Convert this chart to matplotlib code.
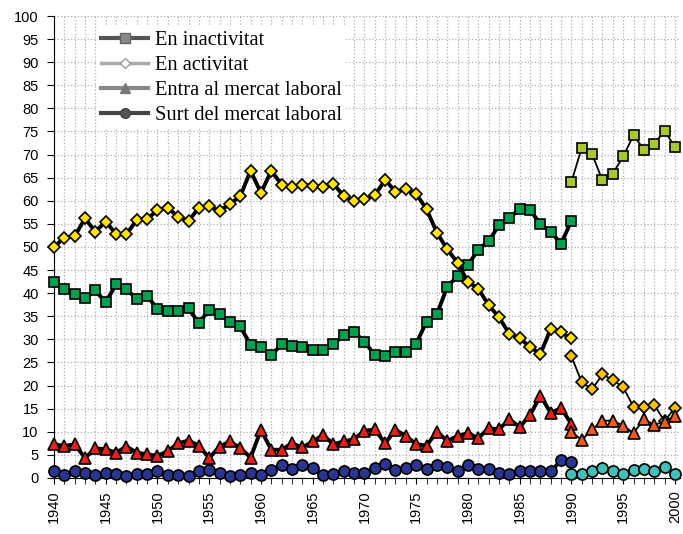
import numpy as np
import matplotlib
matplotlib.use("Agg")
import matplotlib.pyplot as plt
from matplotlib.lines import Line2D

# years of the two periods
years_a = list(range(1940, 1991))
years_b = list(range(1990, 2001))

# En inactivitat
inact_a = [42.4, 40.9, 39.8, 39.0, 40.6, 38.0, 41.9, 40.9, 38.7, 39.4,
           36.6, 36.1, 36.1, 36.7, 33.5, 36.4, 35.4, 33.8, 32.8, 28.8,
           28.3, 26.6, 28.9, 28.6, 28.3, 27.7, 27.7, 28.9, 30.9, 31.7,
           29.4, 26.7, 26.3, 27.3, 27.3, 29.1, 33.8, 35.4, 41.4, 43.7,
           46.1, 49.4, 51.3, 54.7, 56.2, 58.3, 58.1, 54.9, 53.3, 50.7,
           55.7]
inact_b = [64.1, 71.5, 70.1, 64.4, 65.9, 69.6, 74.2, 71.1, 72.4, 75.1, 71.7]

# En activitat
act_a = [50.0, 52.0, 52.3, 56.2, 53.3, 55.5, 52.8, 52.8, 55.8, 56.0,
         58.0, 58.5, 56.5, 55.6, 58.5, 58.8, 57.8, 59.3, 61.0, 66.5,
         61.7, 66.5, 63.5, 63.0, 63.5, 63.2, 63.0, 63.7, 61.0, 60.0,
         60.3, 61.2, 64.5, 62.0, 62.5, 61.5, 58.2, 53.1, 49.5, 46.6,
         42.4, 41.0, 37.4, 34.8, 31.2, 30.2, 28.4, 26.8, 32.3, 31.5,
         30.2]
act_b = [26.3, 20.7, 19.2, 22.4, 21.2, 19.6, 15.4, 15.4, 15.8, 12.3, 15.2]

# Entra al mercat laboral
entra_a = [7.3, 6.9, 7.3, 4.3, 6.4, 6.2, 5.5, 6.8, 5.5, 5.1,
           4.8, 5.8, 7.5, 8.1, 7.0, 4.3, 6.8, 7.9, 6.5, 4.4,
           10.4, 6.1, 6.1, 7.5, 6.6, 7.9, 9.3, 7.3, 7.9, 8.4,
           10.2, 10.5, 7.5, 10.4, 9.1, 7.3, 7.0, 10.0, 8.0, 9.1,
           9.7, 8.6, 10.8, 10.5, 12.7, 11.0, 13.6, 17.8, 14.1, 15.1,
           11.7]
entra_b = [10.0, 8.2, 10.5, 12.4, 12.4, 11.3, 9.7, 12.7, 11.5, 12.2, 13.4]

# Surt del mercat laboral
surt_a = [1.4, 0.6, 1.4, 1.1, 0.6, 1.1, 0.9, 0.4, 0.9, 0.9,
          1.4, 0.6, 0.6, 0.4, 1.4, 1.7, 1.1, 0.4, 0.6, 1.1,
          0.6, 1.7, 2.8, 1.9, 2.8, 2.2, 0.6, 0.9, 1.4, 1.1,
          1.1, 2.2, 3.0, 1.7, 2.2, 2.8, 1.9, 2.8, 2.4, 1.6,
          2.8, 1.9, 2.0, 1.1, 0.9, 1.6, 1.4, 1.4, 1.4, 3.8,
          3.4]
surt_b = [0.9, 0.9, 1.4, 2.2, 1.4, 0.9, 1.7, 2.0, 1.4, 2.4, 0.9]

labels = ["En inactivitat", "En activitat",
          "Entra al mercat laboral", "Surt del mercat laboral"]

fig = plt.figure(figsize=(6.83, 5.34), dpi=100)
ax = fig.add_axes([0.079, 0.105, 0.916, 0.865])

# (values, marker, face colour, size)
series_a = [
    (inact_a, "s", "#00a050", 7.2),
    (act_a, "D", "#ffe400", 5.8),
    (entra_a, "^", "#e8201c", 8),
    (surt_a, "o", "#2a3592", 8),
]
series_b = [
    (inact_b, "s", "#a8c830", 7.2),
    (act_b, "D", "#f8c000", 5.8),
    (entra_b, "^", "#f05a20", 8),
    (surt_b, "o", "#40c0b8", 8),
]

# thick lines before 1990, thin ones after
for vals, mk, col, ms in series_a:
    ax.plot(years_a, vals, color="black", lw=2.8, marker=mk, ms=ms,
            mfc=col, mec="black", mew=1.2, clip_on=False, zorder=3)
for vals, mk, col, ms in series_b:
    ax.plot(years_b, vals, color="black", lw=1.3, marker=mk, ms=ms,
            mfc=col, mec="black", mew=1.2, clip_on=False, zorder=3)

ax.set_xlim(1940, 2000.45)
ax.set_ylim(0, 100)
ax.set_yticks(np.arange(0, 101, 5))
ax.set_xticks(np.arange(1940, 2001, 5))
ax.set_xticks(np.arange(1940, 2001, 1), minor=True)
ax.tick_params(axis="x", which="both", rotation=90, length=4, labelsize=10.5, pad=5)
ax.tick_params(axis="y", length=5, labelsize=10.5, pad=6)
for lab in ax.get_xticklabels() + ax.get_yticklabels():
    lab.set_fontfamily("Liberation Sans")

ax.grid(axis="x", which="both", color="#b0b0b0", ls=":", lw=0.9)
ax.grid(axis="y", which="major", color="#b0b0b0", ls=":", lw=0.9)
ax.set_axisbelow(True)
ax.spines["top"].set_visible(False)
ax.spines["right"].set_visible(False)

# legend drawn in greys, as in the original
handles = [
    Line2D([], [], color="#555555", lw=3, marker="s", ms=7, mfc="#888888", mec="#666666"),
    Line2D([], [], color="#aaaaaa", lw=2.5, marker="D", ms=5, mfc="white", mec="#999999"),
    Line2D([], [], color="#888888", lw=3, marker="^", ms=7, mfc="#777777", mec="#777777"),
    Line2D([], [], color="#444444", lw=3, marker="o", ms=7, mfc="#555555", mec="#444444"),
]
leg = ax.legend(handles, labels, loc="upper left", bbox_to_anchor=(0.052, 1.0),
                prop={"family": "Liberation Serif", "size": 14.8},
                frameon=True, facecolor="white", edgecolor="none", framealpha=1,
                handlelength=2.3, handletextpad=0.35, labelspacing=0.28,
                borderpad=0.2, fancybox=False)
leg.set_zorder(5)

fig.savefig("out.png", dpi=100)
